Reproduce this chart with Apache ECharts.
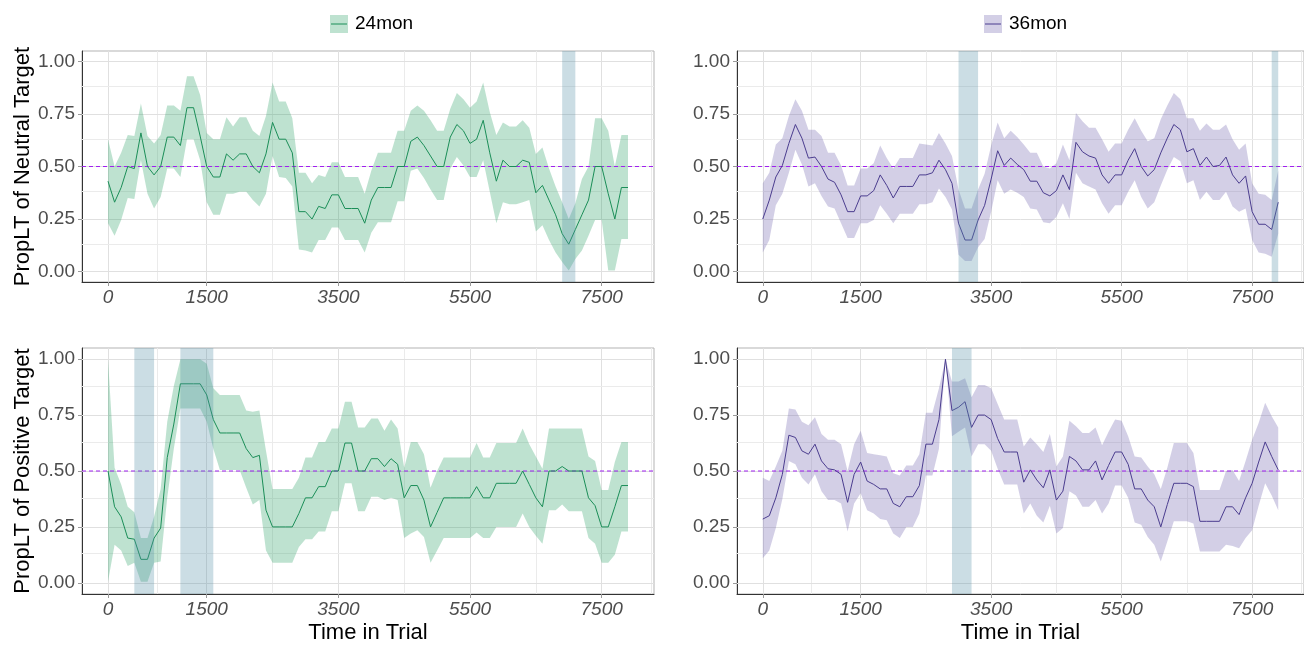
<!DOCTYPE html>
<html>
<head>
<meta charset="utf-8">
<script src="https://cdn.jsdelivr.net/npm/echarts@6/dist/echarts.min.js"></script>
<style>
  html, body { margin: 0; padding: 0; background: #ffffff; }
  #chart { width: 1304px; height: 645px; }
</style>
</head>
<body>
<div id="chart"></div>
<script>
// Time in trial (ms), one sample every 100 ms
const times = [0,100,200,300,400,500,600,700,800,900,1000,1100,1200,1300,1400,1500,1600,1700,1800,1900,
  2000,2100,2200,2300,2400,2500,2600,2700,2800,2900,3000,3100,3200,3300,3400,3500,3600,3700,3800,3900,
  4000,4100,4200,4300,4400,4500,4600,4700,4800,4900,5000,5100,5200,5300,5400,5500,5600,5700,5800,5900,
  6000,6100,6200,6300,6400,6500,6600,6700,6800,6900,7000,7100,7200,7300,7400,7500,7600,7700,7800,7900];

const xLimits = [-395, 8295];
const yLimits = [-0.05, 1.05];
const xTickLabels = [0, 1500, 3500, 5500, 7500];
const xMinorGrid = [750, 2500, 4500, 6500, 8250];
const yTickLabels = [0, 0.25, 0.5, 0.75, 1];
const yMinorGrid = [0.125, 0.375, 0.625, 0.875];
const chanceLevel = 0.5;

// 24mon – neutral target
const n24Mean = [0.43,0.33,0.40,0.50,0.49,0.66,0.50,0.46,0.50,0.64, 0.64,0.60,0.78,0.78,0.645,0.50,0.45,0.45,0.56,0.53,
  0.56,0.56,0.50,0.47,0.56,0.71,0.63,0.63,0.565,0.285, 0.285,0.25,0.31,0.30,0.365,0.365,0.30,0.30,0.30,0.23,
  0.34,0.40,0.40,0.40,0.50,0.50,0.62,0.64,0.60,0.55, 0.50,0.50,0.64,0.70,0.67,0.61,0.63,0.72,0.565,0.43,
  0.53,0.50,0.50,0.53,0.52,0.375,0.41,0.34,0.27,0.18, 0.13,0.20,0.27,0.34,0.50,0.50,0.37,0.25,0.40,0.40];
const n24Upper = [0.63,0.50,0.565,0.65,0.645,0.80,0.645,0.61,0.65,0.79, 0.79,0.765,0.93,0.93,0.84,0.66,0.63,0.63,0.735,0.69,
  0.735,0.735,0.67,0.645,0.74,0.90,0.81,0.81,0.73,0.47, 0.47,0.42,0.46,0.45,0.52,0.52,0.45,0.45,0.45,0.37,
  0.48,0.565,0.565,0.565,0.67,0.67,0.765,0.79,0.765,0.72, 0.67,0.67,0.775,0.85,0.82,0.78,0.81,0.90,0.76,0.65,
  0.71,0.69,0.69,0.72,0.685,0.56,0.59,0.49,0.405,0.33, 0.25,0.325,0.44,0.50,0.73,0.73,0.67,0.50,0.65,0.65];
const n24Lower = [0.23,0.17,0.245,0.35,0.345,0.53,0.37,0.30,0.355,0.49, 0.49,0.45,0.63,0.63,0.53,0.33,0.27,0.27,0.37,0.37,
  0.38,0.38,0.34,0.31,0.37,0.55,0.45,0.445,0.405,0.105, 0.10,0.09,0.15,0.15,0.21,0.21,0.15,0.15,0.15,0.09,
  0.185,0.235,0.235,0.235,0.335,0.335,0.48,0.49,0.445,0.39, 0.34,0.34,0.49,0.545,0.505,0.45,0.45,0.53,0.38,0.23,
  0.33,0.32,0.32,0.33,0.34,0.19,0.22,0.15,0.09,0.045, 0.005,0.06,0.10,0.17,0.245,0.245,0.005,0.005,0.155,0.155];

// 36mon – neutral target
const n36Mean = [0.25,0.34,0.45,0.505,0.61,0.70,0.635,0.54,0.545,0.50, 0.44,0.425,0.365,0.285,0.285,0.36,0.36,0.385,0.46,0.41,
  0.35,0.405,0.405,0.405,0.46,0.46,0.47,0.53,0.485,0.42, 0.23,0.15,0.15,0.245,0.315,0.44,0.575,0.505,0.54,0.51,
  0.485,0.43,0.43,0.375,0.36,0.385,0.46,0.39,0.615,0.57, 0.55,0.54,0.46,0.42,0.46,0.46,0.53,0.585,0.50,0.455,
  0.485,0.565,0.635,0.70,0.675,0.57,0.585,0.505,0.545,0.50, 0.505,0.545,0.46,0.42,0.455,0.285,0.225,0.225,0.20,0.33];
const n36Upper = [0.42,0.47,0.605,0.635,0.74,0.82,0.765,0.675,0.675,0.645, 0.565,0.565,0.505,0.41,0.41,0.49,0.49,0.515,0.60,0.54,
  0.49,0.54,0.54,0.54,0.61,0.605,0.60,0.66,0.61,0.55, 0.39,0.30,0.30,0.39,0.465,0.60,0.71,0.635,0.67,0.64,
  0.605,0.565,0.565,0.50,0.49,0.515,0.605,0.53,0.755,0.715, 0.685,0.685,0.63,0.57,0.61,0.61,0.675,0.73,0.67,0.62,
  0.635,0.725,0.79,0.85,0.82,0.73,0.73,0.67,0.705,0.675, 0.675,0.70,0.63,0.58,0.61,0.42,0.37,0.365,0.34,0.48];
const n36Lower = [0.09,0.15,0.315,0.37,0.47,0.58,0.51,0.405,0.42,0.36, 0.31,0.30,0.23,0.16,0.16,0.23,0.23,0.245,0.315,0.275,
  0.23,0.275,0.275,0.275,0.32,0.32,0.33,0.395,0.355,0.295, 0.08,0.05,0.05,0.115,0.155,0.285,0.435,0.37,0.39,0.375,
  0.355,0.30,0.295,0.235,0.23,0.26,0.325,0.25,0.47,0.42, 0.405,0.39,0.325,0.275,0.315,0.315,0.38,0.435,0.355,0.30,
  0.33,0.41,0.485,0.545,0.525,0.42,0.435,0.34,0.38,0.34, 0.34,0.38,0.31,0.285,0.30,0.15,0.09,0.085,0.07,0.18];

// 24mon – positive target
const p24Mean = [0.50,0.34,0.295,0.20,0.195,0.105,0.105,0.20,0.245,0.56, 0.71,0.89,0.89,0.89,0.89,0.84,0.73,0.67,0.67,0.67,
  0.67,0.60,0.56,0.57,0.325,0.25,0.25,0.25,0.25,0.31, 0.38,0.38,0.43,0.43,0.50,0.50,0.625,0.625,0.50,0.50,
  0.555,0.555,0.52,0.555,0.53,0.38,0.435,0.435,0.37,0.25, 0.315,0.38,0.38,0.38,0.38,0.38,0.43,0.38,0.38,0.445,
  0.445,0.445,0.445,0.50,0.44,0.38,0.34,0.50,0.50,0.52, 0.50,0.50,0.50,0.38,0.345,0.25,0.25,0.34,0.435,0.435];
const p24Upper = [1.00,0.515,0.44,0.34,0.315,0.20,0.20,0.295,0.42,0.72, 0.88,1.00,1.00,1.00,1.00,0.98,0.87,0.84,0.84,0.84,
  0.84,0.77,0.765,0.77,0.59,0.42,0.42,0.42,0.42,0.47, 0.56,0.56,0.63,0.63,0.69,0.69,0.81,0.81,0.695,0.695,
  0.735,0.735,0.68,0.73,0.69,0.515,0.63,0.63,0.575,0.425, 0.50,0.56,0.56,0.56,0.56,0.56,0.625,0.56,0.56,0.625,
  0.625,0.625,0.625,0.69,0.62,0.565,0.51,0.69,0.69,0.69, 0.69,0.69,0.69,0.565,0.545,0.415,0.415,0.54,0.63,0.63];
const p24Lower = [0.005,0.17,0.145,0.075,0.09,0.005,0.005,0.09,0.095,0.38, 0.60,0.78,0.78,0.78,0.78,0.72,0.60,0.505,0.505,0.505,
  0.505,0.425,0.35,0.37,0.145,0.09,0.09,0.09,0.09,0.16, 0.195,0.195,0.23,0.23,0.32,0.32,0.445,0.445,0.32,0.32,
  0.385,0.385,0.37,0.38,0.37,0.20,0.22,0.235,0.205,0.09, 0.145,0.20,0.20,0.20,0.20,0.20,0.225,0.20,0.20,0.25,
  0.25,0.25,0.25,0.31,0.25,0.21,0.175,0.325,0.325,0.35, 0.32,0.32,0.32,0.20,0.175,0.09,0.09,0.125,0.23,0.23];

// 36mon – positive target
const p36Mean = [0.285,0.30,0.38,0.485,0.66,0.65,0.59,0.575,0.62,0.545, 0.51,0.505,0.485,0.36,0.485,0.54,0.455,0.44,0.42,0.42,
  0.355,0.34,0.385,0.385,0.435,0.62,0.62,0.73,1.00,0.77, 0.785,0.81,0.695,0.75,0.75,0.73,0.645,0.585,0.585,0.585,
  0.45,0.505,0.46,0.425,0.505,0.37,0.41,0.565,0.545,0.505, 0.505,0.545,0.46,0.525,0.585,0.585,0.53,0.42,0.42,0.37,
  0.34,0.25,0.35,0.445,0.445,0.445,0.43,0.275,0.275,0.275, 0.275,0.34,0.34,0.305,0.38,0.445,0.54,0.63,0.565,0.505];
const p36Upper = [0.47,0.455,0.52,0.59,0.78,0.775,0.72,0.705,0.74,0.665, 0.64,0.64,0.62,0.50,0.62,0.68,0.58,0.575,0.57,0.565,
  0.49,0.48,0.525,0.525,0.575,0.76,0.76,0.87,1.00,0.90, 0.90,0.915,0.83,0.885,0.885,0.87,0.80,0.73,0.73,0.73,
  0.61,0.65,0.62,0.585,0.665,0.52,0.565,0.725,0.70,0.67, 0.67,0.695,0.615,0.675,0.73,0.725,0.655,0.565,0.56,0.52,
  0.485,0.42,0.515,0.625,0.625,0.625,0.58,0.415,0.415,0.415, 0.415,0.50,0.505,0.455,0.545,0.64,0.715,0.805,0.745,0.695];
const p36Lower = [0.11,0.145,0.245,0.375,0.545,0.53,0.47,0.44,0.485,0.41, 0.37,0.37,0.355,0.23,0.355,0.40,0.325,0.31,0.285,0.28,
  0.22,0.20,0.25,0.25,0.31,0.48,0.48,0.60,1.00,0.655, 0.675,0.695,0.565,0.62,0.62,0.59,0.51,0.44,0.44,0.44,
  0.31,0.355,0.30,0.27,0.345,0.22,0.245,0.41,0.39,0.34, 0.34,0.37,0.31,0.355,0.435,0.435,0.38,0.27,0.26,0.205,
  0.17,0.095,0.185,0.275,0.275,0.275,0.265,0.14,0.14,0.14, 0.14,0.17,0.165,0.155,0.20,0.235,0.345,0.445,0.39,0.325];

// Time windows that are shaded in each panel [start, end] (ms)
const n24Windows = [[6900, 7100]];
const n36Windows = [[3000, 3300], [7800, 7900]];
const p24Windows = [[400, 700], [1100, 1600]];
const p36Windows = [[2900, 3200]];

const groupNames = ['24mon', '36mon'];
const yTitles = ['PropLT of Neutral Target', 'PropLT of Positive Target'];
const xTitle = 'Time in Trial';

const FONT = '"Liberation Sans", Arial, sans-serif';
const GREEN = { line: '#1b8e58', band: 'rgba(40,160,100,0.30)' };
const PURPLE = { line: '#4b3d8f', band: 'rgba(117,107,177,0.32)' };
const SHADE = 'rgba(82,142,165,0.30)';
const CHANCE_COLOR = '#a020f0';

const grids = [
  { left: 82,  top: 51,  width: 572, height: 231 },
  { left: 737, top: 51,  width: 572, height: 231 },
  { left: 82,  top: 348, width: 572, height: 249 },
  { left: 737, top: 348, width: 572, height: 249 }
];

const panels = [
  { mean: n24Mean, lower: n24Lower, upper: n24Upper, col: GREEN,  win: n24Windows, yTitle: yTitles[0], xTitle: '' },
  { mean: n36Mean, lower: n36Lower, upper: n36Upper, col: PURPLE, win: n36Windows, yTitle: '',         xTitle: '' },
  { mean: p24Mean, lower: p24Lower, upper: p24Upper, col: GREEN,  win: p24Windows, yTitle: yTitles[1], xTitle: xTitle },
  { mean: p36Mean, lower: p36Lower, upper: p36Upper, col: PURPLE, win: p36Windows, yTitle: '',         xTitle: xTitle }
];

// Ribbon drawn as one polygon: upper edge forward, lower edge back
function ribbonRenderer(fill) {
  return function (params, api) {
    if (params.dataIndexInside !== 0) return null;
    const n = params.dataInsideLength;
    const top = [], bottom = [];
    for (let j = 0; j < n; j++) {
      const t = api.value(0, j);
      top.push(api.coord([t, api.value(2, j)]));
      bottom.push(api.coord([t, api.value(1, j)]));
    }
    return {
      type: 'polygon',
      shape: { points: top.concat(bottom.reverse()) },
      style: { fill: fill, stroke: null }
    };
  };
}

const xAxes = [], yAxes = [], series = [];

panels.forEach((p, g) => {
  xAxes.push({
    gridIndex: g, type: 'value', min: xLimits[0], max: xLimits[1],
    splitLine: { show: false },
    axisLine: { show: true, onZero: false, lineStyle: { color: '#333333', width: 1 } },
    axisTick: { show: true, customValues: xTickLabels, length: 4, lineStyle: { color: '#9a9a9a' } },
    axisLabel: { customValues: xTickLabels, formatter: (v) => String(v), fontSize: 19, fontStyle: 'italic',
                 color: '#4d4d4d', fontFamily: FONT, margin: 6 },
    name: p.xTitle, nameLocation: 'middle', nameGap: 28,
    nameTextStyle: { fontSize: 22, color: '#000000', fontFamily: FONT }
  });
  yAxes.push({
    gridIndex: g, type: 'value', min: yLimits[0], max: yLimits[1],
    splitLine: { show: false },
    axisLine: { show: true, onZero: false, lineStyle: { color: '#333333', width: 1 } },
    axisTick: { show: true, customValues: yTickLabels, length: 4, lineStyle: { color: '#9a9a9a' } },
    axisLabel: { customValues: yTickLabels, formatter: (v) => v.toFixed(2), fontSize: 19, color: '#4d4d4d',
                 fontFamily: FONT, margin: 7 },
    name: p.yTitle, nameLocation: 'middle', nameGap: 47, nameRotate: 90,
    nameTextStyle: { fontSize: 22, color: '#000000', fontFamily: FONT }
  });

  // panel grid lines (major + minor), kept beneath everything else
  const gridLines = [];
  xTickLabels.forEach(v => gridLines.push({ xAxis: v, lineStyle: { color: '#e0e0e0' } }));
  xMinorGrid.forEach(v => gridLines.push({ xAxis: v, lineStyle: { color: '#ebebeb' } }));
  yTickLabels.forEach(v => gridLines.push({ yAxis: v, lineStyle: { color: '#e0e0e0' } }));
  yMinorGrid.forEach(v => gridLines.push({ yAxis: v, lineStyle: { color: '#ebebeb' } }));
  series.push({
    type: 'line', xAxisIndex: g, yAxisIndex: g, data: [], z: 1, silent: true,
    markLine: { z: 1, silent: true, symbol: 'none', label: { show: false }, animation: false,
                lineStyle: { type: 'solid', width: 1 }, data: gridLines }
  });

  // confidence ribbon
  series.push({
    type: 'custom', xAxisIndex: g, yAxisIndex: g, z: 2, silent: true,
    data: times.map((t, i) => [t, p.lower[i], p.upper[i]]),
    encode: { x: 0, y: [1, 2] },
    renderItem: ribbonRenderer(p.col.band)
  });

  // dashed chance-level line across the panel
  series.push({
    type: 'line', xAxisIndex: g, yAxisIndex: g, z: 3, silent: true,
    color: CHANCE_COLOR,
    data: xLimits.map(x => [x, chanceLevel]), showSymbol: false, symbol: 'none',
    itemStyle: { color: CHANCE_COLOR },
    lineStyle: { color: CHANCE_COLOR, width: 1, type: [4, 3] }
  });

  // mean line
  series.push({
    type: 'line', xAxisIndex: g, yAxisIndex: g, z: 4, silent: true,
    data: times.map((t, i) => [t, p.mean[i]]), showSymbol: false, symbol: 'none',
    lineStyle: { color: p.col.line, width: 1 }
  });

  // shaded time windows, on top
  series.push({
    type: 'line', xAxisIndex: g, yAxisIndex: g, data: [], z: 6, silent: true,
    markArea: { z: 6, silent: true, animation: false, itemStyle: { color: SHADE },
                data: p.win.map(w => [{ xAxis: w[0] }, { xAxis: w[1] }]) }
  });
});

// legend keys above each column
const legendItems = [
  { name: groupNames[0], col: GREEN,  x: 330 },
  { name: groupNames[1], col: PURPLE, x: 984 }
];
const graphics = [];
legendItems.forEach(it => {
  graphics.push({ type: 'rect', left: it.x, top: 15, shape: { width: 18, height: 18 },
                  style: { fill: it.col.band } });
  graphics.push({ type: 'line', shape: { x1: it.x + 1, y1: 24, x2: it.x + 17, y2: 24 },
                  style: { stroke: it.col.line, lineWidth: 1 } });
  graphics.push({ type: 'text', x: it.x + 25, y: 24,
                  style: { text: it.name, font: '19px ' + FONT, fill: '#000000',
                           textVerticalAlign: 'middle', verticalAlign: 'middle' } });
});

const chart = echarts.init(document.getElementById('chart'), null, { renderer: 'canvas' });
chart.setOption({
  animation: false,
  backgroundColor: '#ffffff',
  grid: grids.map(g => Object.assign({ show: true, borderColor: '#b3b3b3', borderWidth: 1,
                                        backgroundColor: 'transparent' }, g)),
  xAxis: xAxes,
  yAxis: yAxes,
  series: series,
  graphic: graphics
});
</script>
</body>
</html>
